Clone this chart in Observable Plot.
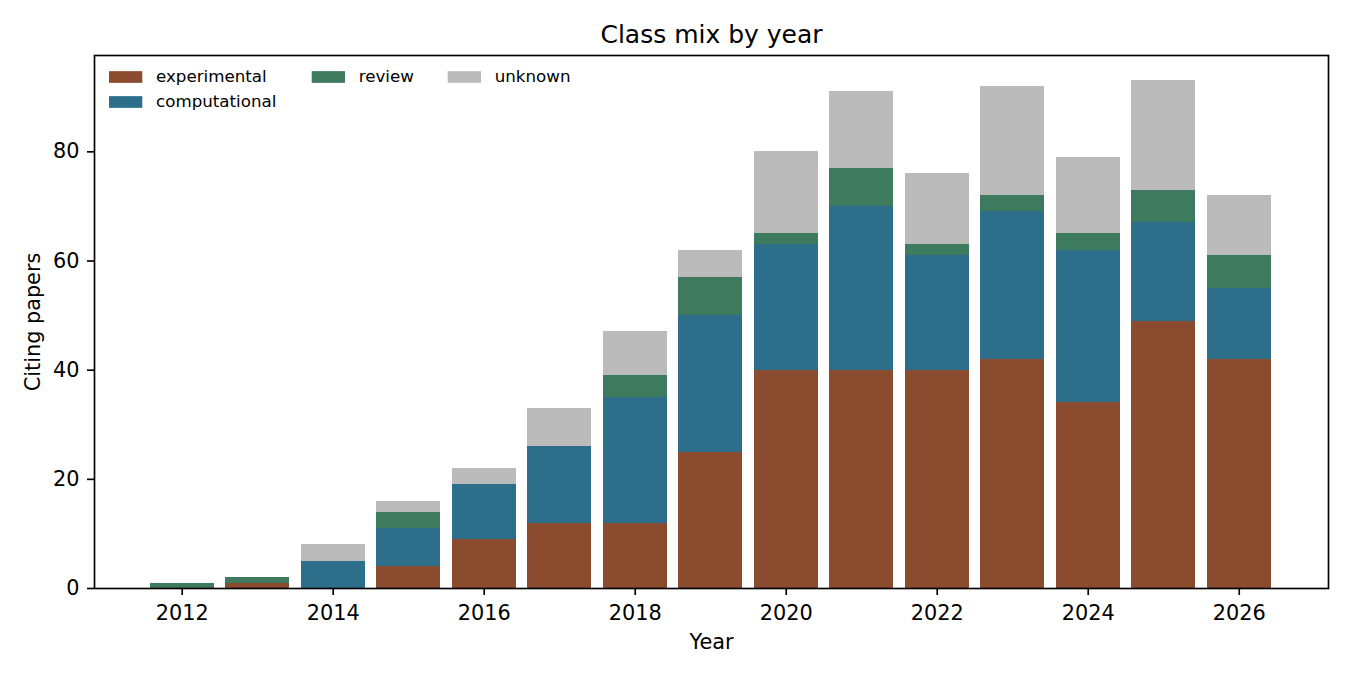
<!DOCTYPE html>
<html>
<head>
<meta charset="utf-8">
<script src="https://cdn.jsdelivr.net/npm/d3@7"></script>
<script src="https://cdn.jsdelivr.net/npm/@observablehq/plot@0.6"></script>
<style>
  html, body { margin: 0; padding: 0; background: #fff; }
  #wrap { width: 1350px; height: 675px; font-family: "DejaVu Sans", sans-serif; }
</style>
</head>
<body>
<div id="wrap"></div>
<script>
const years = [2012, 2013, 2014, 2015, 2016, 2017, 2018, 2019, 2020, 2021, 2022, 2023, 2024, 2025, 2026];
const experimental  = [0, 1, 0, 4,  9, 12, 12, 25, 40, 40, 40, 42, 34, 49, 42];
const computational = [0, 0, 5, 7, 10, 14, 23, 25, 23, 30, 21, 27, 28, 18, 13];
const review        = [1, 1, 0, 3,  0,  0,  4,  7,  2,  7,  2,  3,  3,  6,  6];
const unknown       = [0, 0, 3, 2,  3,  7,  8,  5, 15, 14, 13, 20, 14, 20, 11];
const classes = ["experimental", "computational", "review", "unknown"];
const classColors = ["#8B4B2E", "#2D6F8A", "#3E7A5E", "#BBBBBB"];
const xTicks = [2012, 2014, 2016, 2018, 2020, 2022, 2024, 2026];
const yTicks = [0, 20, 40, 60, 80];
const titleText = "Class mix by year";
const xLabel = "Year";
const yLabel = "Citing papers";

const series = [experimental, computational, review, unknown];
const data = years.flatMap((yr, i) => classes.map((c, j) => ({ year: yr, cls: c, value: series[j][i] })));
const yMax = d3.max(years.map((_, i) => series.reduce((s, a) => s + a[i], 0))) * 1.05;

const W = 1350, H = 675, mL = 94, mR = 22, mT = 55, mB = 87;
const lw = 1.67;

const chart = Plot.plot({
  width: W, height: H,
  marginLeft: mL, marginRight: mR, marginTop: mT, marginBottom: mB,
  style: { fontFamily: "DejaVu Sans, sans-serif", color: "#000", background: "#fff", overflow: "visible" },
  x: { type: "band", domain: years, paddingInner: 0.15, paddingOuter: 0.747, align: 0.493, round: false },
  y: { domain: [0, yMax] },
  color: { domain: classes, range: classColors },
  marks: [
    Plot.barY(data, { x: "year", y: "value", fill: "cls", shapeRendering: "crispEdges" }),
    Plot.frame({ stroke: "#000", strokeWidth: lw }),
    Plot.axisX({ ticks: xTicks, tickFormat: d => String(d), tickSize: 7, tickPadding: 10, fontSize: 20.8, strokeWidth: lw, label: null }),
    Plot.axisY({ ticks: yTicks, tickSize: 7, tickPadding: 8, fontSize: 20.8, strokeWidth: lw, label: null }),
    Plot.text([titleText], { frameAnchor: "top", dy: -13, lineAnchor: "bottom", fontSize: 25, fill: "#000", text: d => d }),
    Plot.text([xLabel], { frameAnchor: "bottom", dy: 60, lineAnchor: "bottom", fontSize: 20.8, fill: "#000", text: d => d }),
    Plot.text([yLabel], { frameAnchor: "left", dx: -69, rotate: -90, textAnchor: "middle", lineAnchor: "top", fontSize: 20.8, fill: "#000", text: d => d })
  ]
});

document.getElementById("wrap").appendChild(chart);

// legend (inside axes, upper left, 3 columns)
const legendItems = [
  { name: classes[0], col: 0, row: 0 },
  { name: classes[1], col: 0, row: 1 },
  { name: classes[2], col: 1, row: 0 },
  { name: classes[3], col: 2, row: 0 }
];
const colX = [109, 311.7, 447.7];
const rowY = [77, 102];
const svg = d3.select(chart);
const lg = svg.append("g").attr("font-family", "DejaVu Sans, sans-serif").attr("font-size", 16.7).attr("text-anchor", "start");
legendItems.forEach(it => {
  const x = colX[it.col], y = rowY[it.row];
  lg.append("rect").attr("x", x).attr("y", y - 5.85).attr("width", 33.3).attr("height", 11.7)
    .attr("fill", classColors[classes.indexOf(it.name)]);
  lg.append("text").attr("x", x + 47).attr("y", y).attr("dy", "0.32em").attr("fill", "#000")
    .attr("text-anchor", "start").text(it.name);
});
</script>
</body>
</html>
